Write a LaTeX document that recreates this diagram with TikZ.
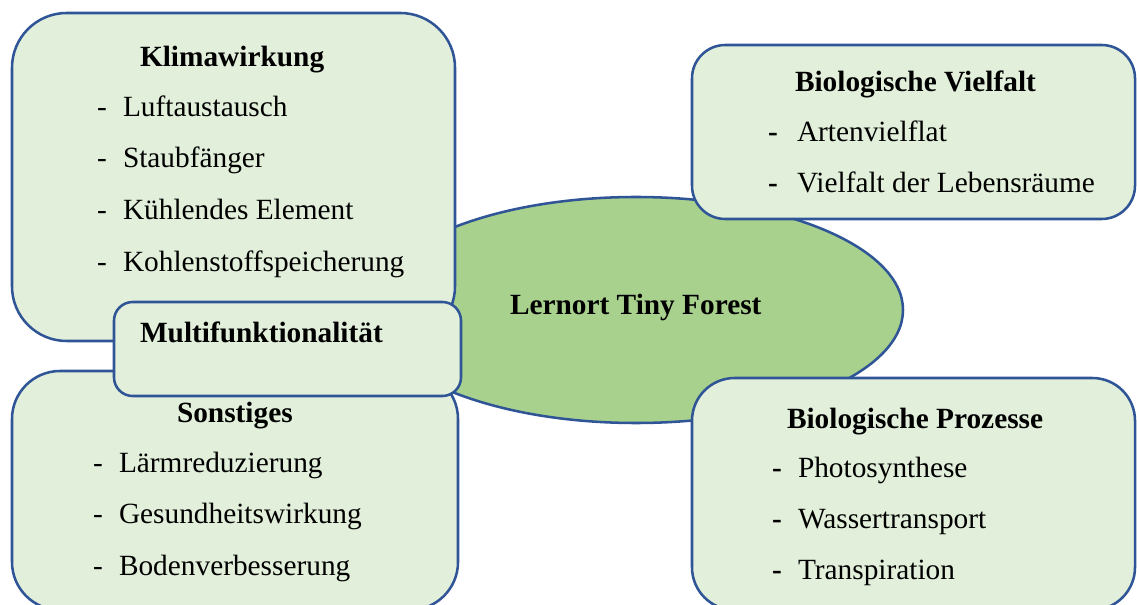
\documentclass[tikz,border=0pt]{standalone}
\usepackage{fontspec}
\setmainfont{Liberation Serif}
\usetikzlibrary{shapes.geometric}
\definecolor{boxfill}{HTML}{E2EFDA}
\definecolor{boxline}{HTML}{2F5597}
\definecolor{ellfill}{HTML}{A9D18E}
\tikzset{
  box/.style={draw=boxline, fill=boxfill, line width=1.9pt, rectangle, inner sep=0pt, outer sep=0pt},
  centre/.style={draw=boxline, fill=ellfill, line width=1.9pt, ellipse, inner sep=0pt, outer sep=0pt,
     minimum width=534*0.75pt, minimum height=226*0.75pt},
  txt/.style={anchor=base west, inner sep=0pt, outer sep=0pt, font=\fontsize{22}{26}\selectfont},
  ttl/.style={txt, font=\fontsize{22}{26}\selectfont\bfseries},
  bdash/.style={txt, font=\fontsize{22}{26}\selectfont\bfseries}
}
\begin{document}
\begin{tikzpicture}[x=0.75pt, y=-0.75pt]
\useasboundingbox (0,0) rectangle (1137,605);
\clip (0,0) rectangle (1137,605);
% centre ellipse
\node[centre] (centre) at (636,310) {};
% boxes
\node[box, rounded corners=41pt, minimum width=443*0.75pt, minimum height=328*0.75pt] (klima) at (233.5,177) {};
\node[box, rounded corners=25pt, minimum width=443*0.75pt, minimum height=174*0.75pt] (vielfalt) at (913.5,132) {};
\node[box, rounded corners=32pt, minimum width=443*0.75pt, minimum height=232*0.75pt] (prozesse) at (913.5,494) {};
\node[box, rounded corners=36pt, minimum width=446*0.75pt, minimum height=239*0.75pt] (sonst) at (235,490.5) {};
\node[box, rounded corners=14pt, minimum width=347*0.75pt, minimum height=94*0.75pt] (multi) at (287.5,349) {};
% centre text
\node[ttl] (centretxt) at (510,315) {Lernort Tiny Forest};
% Klimawirkung
\node[ttl] (k0) at (140,67) {Klimawirkung};
\node[txt] (kd1) at (97,117) {-};
\node[txt] (k1) at (123,117) {Luftaustausch};
\node[txt] (kd2) at (97,168) {-};
\node[txt] (k2) at (123,168) {Staubfänger};
\node[txt] (kd3) at (97,220) {-};
\node[txt] (k3) at (123,220) {Kühlendes Element};
\node[txt] (kd4) at (97,272) {-};
\node[txt] (k4) at (123,272) {Kohlenstoffspeicherung};
% Multifunktionalität
\node[ttl] (m0) at (140,343) {Multifunktionalität};
% Sonstiges
\node[ttl] (s0) at (177,422) {Sonstiges};
\node[txt] (sd1) at (93,472) {-};
\node[txt] (s1) at (119,472) {Lärmreduzierung};
\node[txt] (sd2) at (93,523) {-};
\node[txt] (s2) at (119,523) {Gesundheitswirkung};
\node[txt] (sd3) at (93,575) {-};
\node[txt] (s3) at (119,575) {Bodenverbesserung};
% Biologische Vielfalt
\node[ttl] (v0) at (795,92) {Biologische Vielfalt};
\node[bdash] (vd1) at (768,142) {-};
\node[txt] (v1) at (797,142) {Artenvielflat};
\node[bdash] (vd2) at (768,193) {-};
\node[txt] (v2) at (797,193) {Vielfalt der Lebensräume};
% Biologische Prozesse
\node[ttl] (p0) at (787,428) {Biologische Prozesse};
\node[bdash] (pd1) at (772,477) {-};
\node[txt] (p1) at (798,477) {Photosynthese};
\node[bdash] (pd2) at (772,528) {-};
\node[txt] (p2) at (798,528) {Wassertransport};
\node[bdash] (pd3) at (772,579) {-};
\node[txt] (p3) at (798,579) {Transpiration};
\end{tikzpicture}
\end{document}
